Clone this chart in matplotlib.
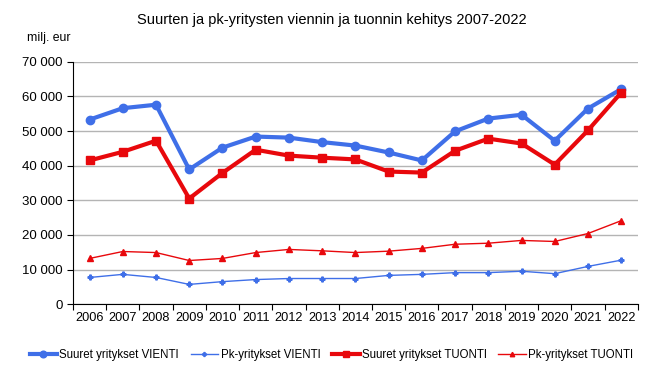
import matplotlib.pyplot as plt
from matplotlib.ticker import FuncFormatter, FixedLocator

plt.rcParams['font.family'] = ['Liberation Sans', 'DejaVu Sans']

years = list(range(2006, 2023))
suuret_vienti = [53.3, 56.6, 57.6, 38.9, 45.2, 48.4, 48.1, 46.8, 45.8, 43.8, 41.5,
                 49.9, 53.6, 54.7, 47.2, 56.5, 62.1]
pk_vienti = [7.7, 8.6, 7.7, 5.7, 6.5, 7.1, 7.4, 7.4, 7.4, 8.3, 8.6,
             9.1, 9.1, 9.5, 8.8, 10.9, 12.7]
suuret_tuonti = [41.5, 44.0, 47.2, 30.5, 37.9, 44.6, 42.9, 42.3, 41.8, 38.3, 38.0,
                 44.3, 47.8, 46.4, 40.3, 50.2, 61.1]
pk_tuonti = [13.2, 15.2, 14.9, 12.6, 13.2, 14.9, 15.8, 15.4, 14.9, 15.3, 16.1,
             17.3, 17.6, 18.4, 18.1, 20.4, 24.1]

# values in million euros
suuret_vienti = [v * 1000 for v in suuret_vienti]
pk_vienti = [v * 1000 for v in pk_vienti]
suuret_tuonti = [v * 1000 for v in suuret_tuonti]
pk_tuonti = [v * 1000 for v in pk_tuonti]

blue = "#3f6fe8"
red = "#e8080c"
x = list(range(len(years)))

fig = plt.figure(figsize=(6.63, 3.70), dpi=100)
ax = fig.add_axes([0.110, 0.178, 0.852, 0.655])

ax.plot(x, suuret_vienti, color=blue, lw=3, marker="o", ms=6, label="Suuret yritykset VIENTI")
ax.plot(x, pk_vienti, color=blue, lw=1, marker="P", ms=3.5, label="Pk-yritykset VIENTI")
ax.plot(x, suuret_tuonti, color=red, lw=3, marker="s", ms=6, label="Suuret yritykset TUONTI")
ax.plot(x, pk_tuonti, color=red, lw=1, marker="^", ms=4, label="Pk-yritykset TUONTI")

ax.set_xlim(-0.5, len(years) - 0.5)
ax.set_ylim(0, 70000)
ax.set_yticks(range(0, 70001, 10000))
ax.yaxis.set_major_formatter(FuncFormatter(lambda v, p: f"{int(v):,}".replace(",", " ")))
ax.grid(axis="y", color="#b4b4b4", lw=1)
ax.set_axisbelow(True)

ax.xaxis.set_major_locator(FixedLocator([i - 0.5 for i in range(len(years) + 1)]))
ax.xaxis.set_minor_locator(FixedLocator(x))
ax.set_xticklabels([])
ax.set_xticklabels([str(y) for y in years], minor=True)
ax.tick_params(axis="x", which="major", length=4, direction="out")
ax.tick_params(axis="x", which="minor", length=0, pad=6, labelsize=9.2)
ax.tick_params(axis="y", length=4, labelsize=9.5)

for s in ["top", "right"]:
    ax.spines[s].set_visible(False)
ax.spines["left"].set_color("black")
ax.spines["bottom"].set_color("black")

fig.text(0.5, 0.945, "Suurten ja pk-yritysten viennin ja tuonnin kehitys 2007-2022",
         ha="center", va="center", fontsize=10.5)
fig.text(0.041, 0.897, "milj. eur", ha="left", va="center", fontsize=8.8)

fig.legend(loc="center", bbox_to_anchor=(0.5, 0.04), ncol=4, frameon=False,
           fontsize=8.3, handlelength=2.4, columnspacing=1.0, handletextpad=0.2,
           markerscale=0.8)

fig.savefig("out.png", dpi=100)
